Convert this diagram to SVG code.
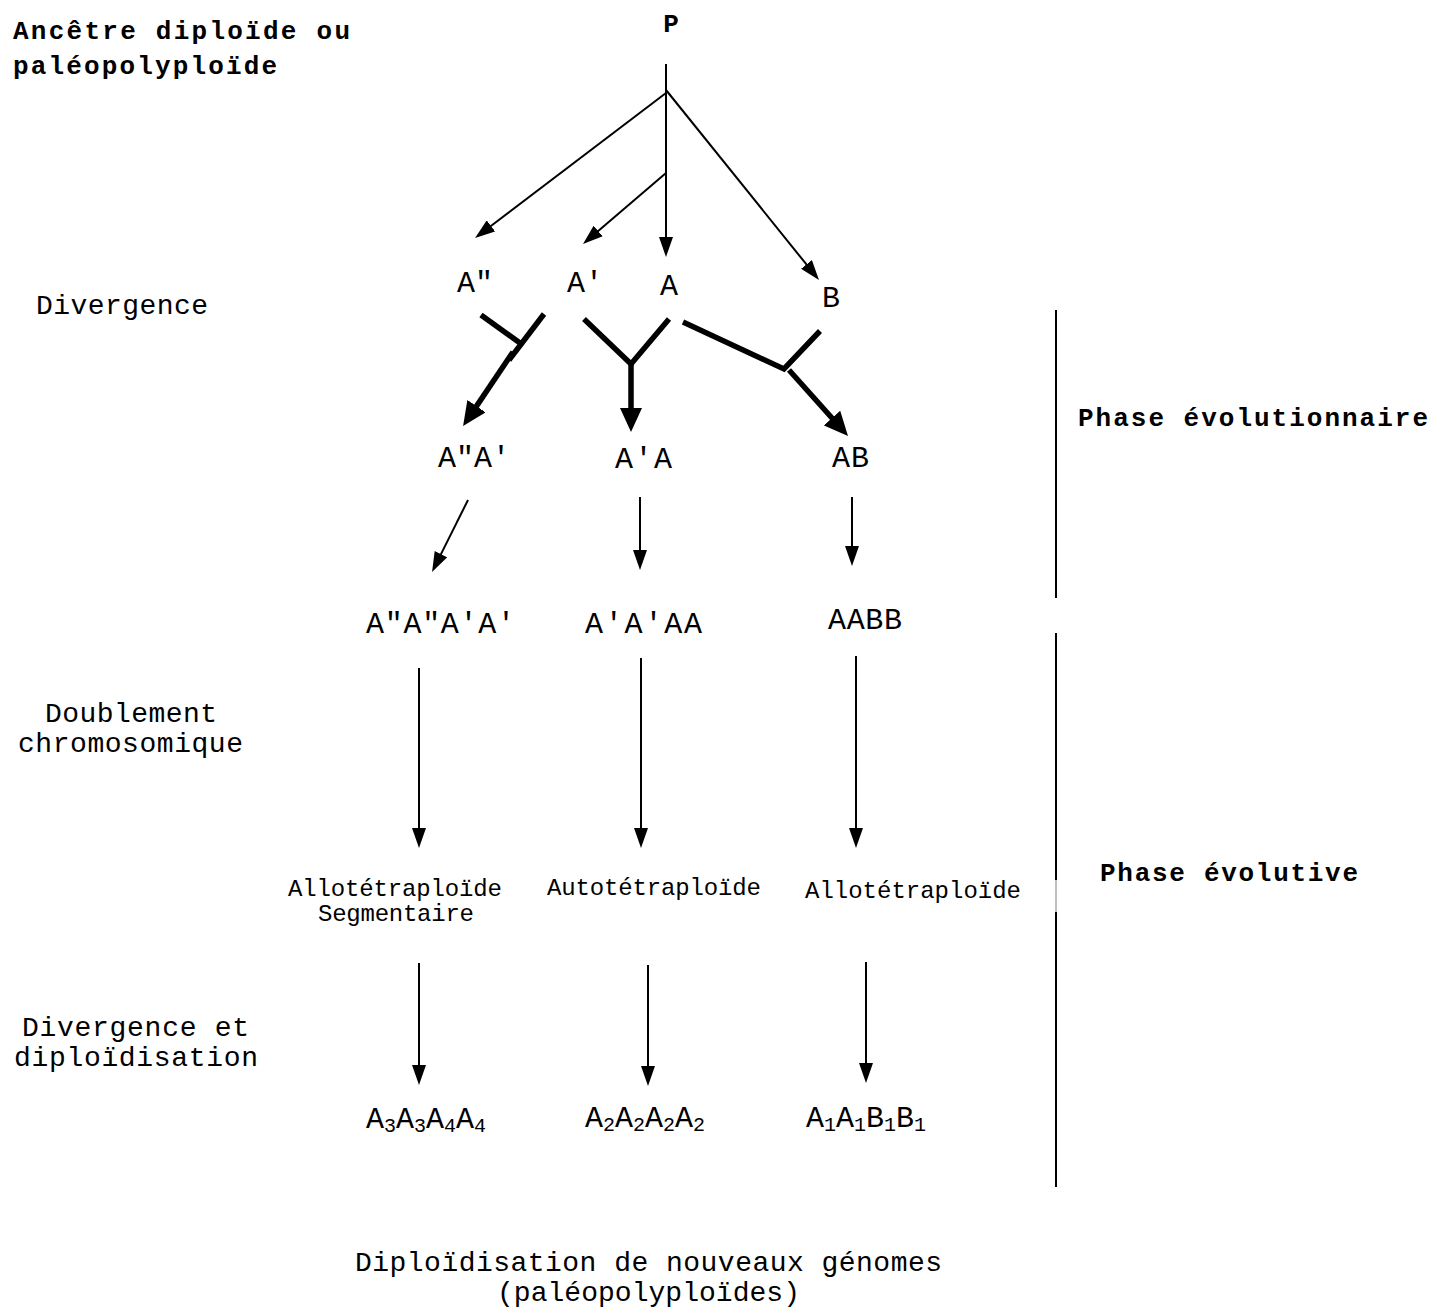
<svg xmlns="http://www.w3.org/2000/svg" width="1434" height="1308" viewBox="0 0 1434 1308">
  <style>
    text { font-family: "Liberation Mono", "DejaVu Sans Mono", monospace; fill: #000; }
    .hd { font-weight: bold; font-size: 26px; }
    .lb { font-size: 28px; }
    .nd { font-size: 30px; }
    .sm { font-size: 24px; }
    .thin { stroke: #000; stroke-width: 2; fill: none; }
    .thick { stroke: #000; stroke-width: 5.5; fill: none; }
  </style>
  <defs>
    <marker id="arrow" markerUnits="userSpaceOnUse" markerWidth="20" markerHeight="14" refX="10" refY="7" orient="auto">
      <path d="M0,0 L20,7 L0,14 z" fill="#000"/>
    </marker>
    <marker id="arrow-bold" markerUnits="userSpaceOnUse" markerWidth="24" markerHeight="22" refX="12" refY="11" orient="auto">
      <path d="M0,0 L24,11 L0,22 z" fill="#000"/>
    </marker>
  </defs>

  <rect width="1434" height="1308" fill="#fff"/>

  <!-- side and phase labels -->
  <g id="labels">
    <text class="hd" x="13" y="39" textLength="337" lengthAdjust="spacing">Ancêtre diploïde ou</text>
    <text class="hd" x="13" y="74" textLength="264" lengthAdjust="spacing">paléopolyploïde</text>
    <text class="lb" x="36" y="314" textLength="172" lengthAdjust="spacing">Divergence</text>
    <text class="lb" x="45" y="722" textLength="172" lengthAdjust="spacing">Doublement</text>
    <text class="lb" x="18" y="752" textLength="225" lengthAdjust="spacing">chromosomique</text>
    <text class="lb" x="22" y="1036" textLength="227" lengthAdjust="spacing">Divergence et</text>
    <text class="lb" x="14" y="1066" textLength="244" lengthAdjust="spacing">diploïdisation</text>
    <text class="hd" x="1078" y="426" textLength="350" lengthAdjust="spacing">Phase évolutionnaire</text>
    <text class="hd" x="1100" y="881" textLength="258" lengthAdjust="spacing">Phase évolutive</text>
    <text class="lb" x="355" y="1271" textLength="587" lengthAdjust="spacing">Diploïdisation de nouveaux génomes</text>
    <text class="lb" x="497" y="1301" textLength="303" lengthAdjust="spacing">(paléopolyploïdes)</text>
  </g>

  <!-- phase dividers -->
  <g id="dividers" stroke-width="2">
    <line x1="1056" y1="310" x2="1056" y2="598" stroke="#000"/>
    <line x1="1056" y1="633" x2="1056" y2="880" stroke="#000"/>
    <line x1="1056" y1="880" x2="1056" y2="912" stroke="#c0c0c0"/>
    <line x1="1056" y1="912" x2="1056" y2="1187" stroke="#000"/>
  </g>

  <!-- ancestor -->
  <g id="node-P"><text class="hd" x="671" y="32" text-anchor="middle" font-size="28">P</text></g>

  <!-- diploid genomes -->
  <g id="node-A2p"><text class="nd" x="457" y="292">A″</text></g>
  <g id="node-A1p"><text class="nd" x="567" y="292">A′</text></g>
  <g id="node-A"><text class="nd" x="660" y="295">A</text></g>
  <g id="node-B"><text class="nd" x="822" y="307">B</text></g>

  <!-- hybrids -->
  <g id="node-A2pA1p"><text class="nd" x="438" y="467" textLength="72" lengthAdjust="spacing">A″A′</text></g>
  <g id="node-A1pA"><text class="nd" x="615" y="468" textLength="57" lengthAdjust="spacing">A′A</text></g>
  <g id="node-AB"><text class="nd" x="832" y="467" textLength="37" lengthAdjust="spacing">AB</text></g>

  <!-- doubled genomes -->
  <g id="node-A2pA2pA1pA1p"><text class="nd" x="366" y="633" textLength="149" lengthAdjust="spacing">A″A″A′A′</text></g>
  <g id="node-A1pA1pAA"><text class="nd" x="585" y="633" textLength="117" lengthAdjust="spacing">A′A′AA</text></g>
  <g id="node-AABB"><text class="nd" x="828" y="629" textLength="74" lengthAdjust="spacing">AABB</text></g>

  <!-- polyploid types -->
  <g id="node-allo-seg">
    <text class="sm" x="288" y="896" textLength="214" lengthAdjust="spacing">Allotétraploïde</text>
    <text class="sm" x="318" y="921" textLength="156" lengthAdjust="spacing">Segmentaire</text>
  </g>
  <g id="node-auto"><text class="sm" x="547" y="895" textLength="214" lengthAdjust="spacing">Autotétraploïde</text></g>
  <g id="node-allo"><text class="sm" x="805" y="898" textLength="216" lengthAdjust="spacing">Allotétraploïde</text></g>

  <!-- diploidised genomes -->
  <g id="node-A3A3A4A4"><text class="nd" x="366" y="1128">A<tspan font-size="20" dy="4">3</tspan><tspan dy="-4">A</tspan><tspan font-size="20" dy="4">3</tspan><tspan dy="-4">A</tspan><tspan font-size="20" dy="4">4</tspan><tspan dy="-4">A</tspan><tspan font-size="20" dy="4">4</tspan></text></g>
  <g id="node-A2A2A2A2"><text class="nd" x="585" y="1127">A<tspan font-size="20" dy="4">2</tspan><tspan dy="-4">A</tspan><tspan font-size="20" dy="4">2</tspan><tspan dy="-4">A</tspan><tspan font-size="20" dy="4">2</tspan><tspan dy="-4">A</tspan><tspan font-size="20" dy="4">2</tspan></text></g>
  <g id="node-A1A1B1B1"><text class="nd" x="806" y="1127">A<tspan font-size="20" dy="4">1</tspan><tspan dy="-4">A</tspan><tspan font-size="20" dy="4">1</tspan><tspan dy="-4">B</tspan><tspan font-size="20" dy="4">1</tspan><tspan dy="-4">B</tspan><tspan font-size="20" dy="4">1</tspan></text></g>

  <g id="connectors">
    <!-- divergence from P -->
    <line class="thin" x1="666" y1="64" x2="666" y2="247" marker-end="url(#arrow)"/>
    <line class="thin" x1="666" y1="93" x2="483" y2="232" marker-end="url(#arrow)"/>
    <line class="thin" x1="666" y1="90" x2="812.7" y2="272.2" marker-end="url(#arrow)"/>
    <line class="thin" x1="666" y1="173" x2="590.6" y2="237.5" marker-end="url(#arrow)"/>

    <!-- hybridisation -->
    <line class="thick" x1="481" y1="315" x2="520" y2="343"/>
    <line class="thick" x1="544" y1="314" x2="509" y2="360"/>
    <line class="thick" x1="513" y1="352" x2="469.8" y2="416.1" marker-end="url(#arrow-bold)"/>

    <polyline class="thick" points="584,319 631,364 669,319"/>
    <line class="thick" x1="631" y1="362" x2="631" y2="420" marker-end="url(#arrow-bold)"/>

    <polyline class="thick" points="683,322 784,369 820,331"/>
    <line class="thick" x1="789" y1="370" x2="840" y2="427" marker-end="url(#arrow-bold)"/>

    <!-- chromosome doubling -->
    <line class="thin" x1="468" y1="500" x2="436.5" y2="563.1" marker-end="url(#arrow)"/>
    <line class="thin" x1="640" y1="497" x2="640" y2="560" marker-end="url(#arrow)"/>
    <line class="thin" x1="852" y1="497" x2="852" y2="556" marker-end="url(#arrow)"/>

    <line class="thin" x1="419" y1="668" x2="419" y2="838" marker-end="url(#arrow)"/>
    <line class="thin" x1="641" y1="658" x2="641" y2="838" marker-end="url(#arrow)"/>
    <line class="thin" x1="856" y1="656" x2="856" y2="838" marker-end="url(#arrow)"/>

    <!-- divergence and diploidisation -->
    <line class="thin" x1="419" y1="963" x2="419" y2="1075" marker-end="url(#arrow)"/>
    <line class="thin" x1="648" y1="965" x2="648" y2="1076" marker-end="url(#arrow)"/>
    <line class="thin" x1="866" y1="962" x2="866" y2="1073" marker-end="url(#arrow)"/>
  </g>
</svg>
